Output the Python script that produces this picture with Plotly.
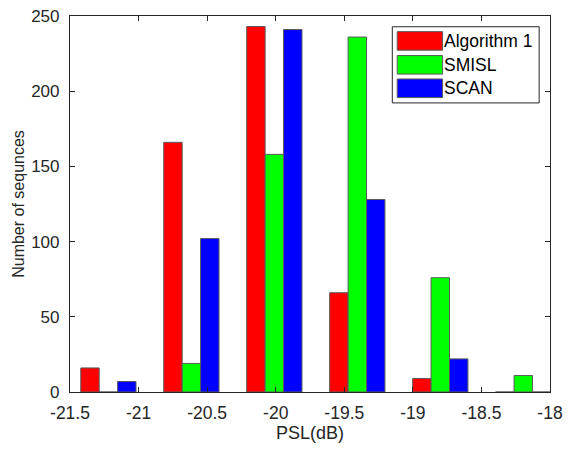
import plotly.graph_objects as go

# Data
bin_centers = [-21.22, -20.615, -20.01, -19.405, -18.80, -18.195]
algorithm1 = [16, 166, 243, 66, 9, 0]
smisl = [0, 19, 158, 236, 76, 11]
scan = [7, 102, 241, 128, 22, 0]
series_names = ["Algorithm 1", "SMISL", "SCAN"]
series_colors = ["#FF0000", "#00FF00", "#0000FF"]
x_ticks = [-21.5, -21, -20.5, -20, -19.5, -19, -18.5, -18]
x_tick_text = ["-21.5", "-21", "-20.5", "-20", "-19.5", "-19", "-18.5", "-18"]
y_ticks = [0, 50, 100, 150, 200, 250]

FONT = "Liberation Sans, Arial, sans-serif"
AX = "#262626"
TXT = "#262626"

fig = go.Figure()
for name, vals, col in zip(series_names, [algorithm1, smisl, scan], series_colors):
    fig.add_trace(go.Bar(
        x=bin_centers, y=vals, name=name,
        marker=dict(color=col, line=dict(color="#5a5a5a", width=1)),
        showlegend=False,
    ))

# plot area in px: left 70, right 557, top 7, bottom 392
L, R, T, B = 70, 557, 7, 392
W, H = R - L, B - T

def px(x):
    return (x - L) / W

def py(y):
    return (B - y) / H

shapes = []
annotations = []
# legend box
shapes.append(dict(type="rect", xref="paper", yref="paper",
                   x0=px(397), x1=px(546), y0=py(96), y1=py(18),
                   line=dict(color=AX, width=1), fillcolor="white", layer="above"))
row_centers = [32.5, 57, 81]
for name, col, yc in zip(series_names, series_colors, row_centers):
    shapes.append(dict(type="rect", xref="paper", yref="paper",
                       x0=px(402), x1=px(448), y0=py(yc + 9.5), y1=py(yc - 9.5),
                       line=dict(color="#5a5a5a", width=1), fillcolor=col, layer="above"))
    annotations.append(dict(xref="paper", yref="paper", x=px(449), y=py(yc),
                            text=name, showarrow=False, xanchor="left", yanchor="middle",
                            xshift=-2,
                            font=dict(family=FONT, size=17.5, color="#000000")))

fig.update_layout(
    width=570, height=450,
    margin=dict(l=L, r=570 - R, t=T, b=450 - B),
    paper_bgcolor="white", plot_bgcolor="white",
    barmode="group", bargap=0.334, bargroupgap=0,
    font=dict(family=FONT, size=17, color=TXT),
    shapes=shapes, annotations=annotations,
    xaxis=dict(
        range=[-21.5, -18], tickvals=x_ticks, ticktext=x_tick_text,
        showgrid=False, zeroline=False, showline=True, linecolor=AX, linewidth=1.2,
        mirror="allticks", ticks="inside", ticklen=5, tickcolor=AX, tickwidth=1.2,
        ticklabelstandoff=5, ticklabeloverflow="allow",
        title=dict(text="PSL(dB)", font=dict(family=FONT, size=18, color=TXT), standoff=3),
        tickfont=dict(family=FONT, size=17.5, color=TXT),
    ),
    yaxis=dict(
        range=[0, 250], tickvals=y_ticks,
        showgrid=False, zeroline=False, showline=True, linecolor=AX, linewidth=1.2,
        mirror="allticks", ticks="inside", ticklen=5, tickcolor=AX, tickwidth=1.2,
        ticklabelstandoff=6, ticklabeloverflow="allow",
        title=dict(text="Number of sequnces", font=dict(family=FONT, size=16, color=TXT), standoff=2),
        tickfont=dict(family=FONT, size=17, color=TXT),
    ),
)

fig.write_html("out.html")
